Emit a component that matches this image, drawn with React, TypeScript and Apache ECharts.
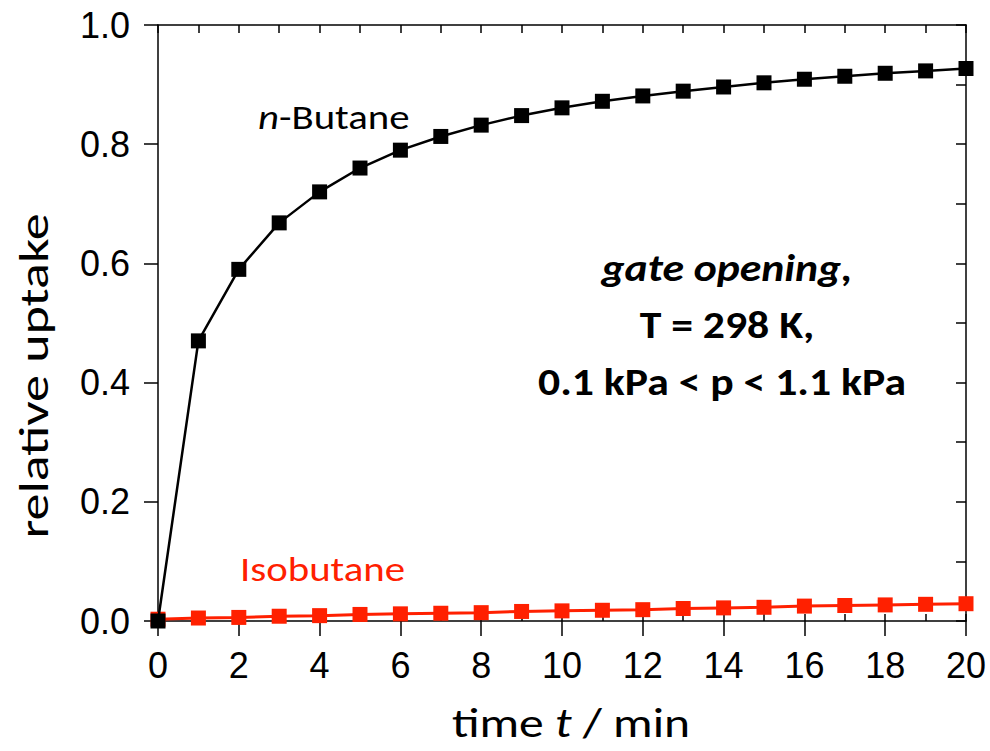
import React, { useEffect, useRef } from "react";
import * as echarts from "echarts";

const times = [0, 1, 2, 3, 4, 5, 6, 7, 8, 9, 10, 11, 12, 13, 14, 15, 16, 17, 18, 19, 20];
const nButane = [0.0, 0.47, 0.59, 0.668, 0.72, 0.76, 0.79, 0.813, 0.832, 0.848, 0.861, 0.872, 0.881, 0.889, 0.896, 0.903, 0.909, 0.914, 0.919, 0.923, 0.927];
const isobutane = [0.003, 0.005, 0.006, 0.008, 0.009, 0.011, 0.012, 0.013, 0.014, 0.016, 0.017, 0.018, 0.019, 0.021, 0.022, 0.023, 0.025, 0.026, 0.027, 0.028, 0.029];

const labelFont = "'Liberation Sans', Arial, sans-serif";
const textFont = "Carlito, Lato, 'Open Sans', sans-serif";

export default function App() {
  const ref = useRef<HTMLDivElement>(null);
  useEffect(() => {
    if (!ref.current) return;
    const chart = echarts.init(ref.current, null, { renderer: "svg" });
    const hidden = { show: false };
    chart.setOption({
      animation: false,
      backgroundColor: "#ffffff",
      grid: { left: 158, right: 24, top: 25, bottom: 130, containLabel: false },
      xAxis: [
        {
          type: "value", min: 0, max: 20, interval: 2, position: "bottom",
          axisLine: { show: true, onZero: false, lineStyle: { color: "#000", width: 1.5 } },
          axisTick: { show: true, inside: false, length: 15, lineStyle: { color: "#000", width: 1.5 } },
          axisLabel: { color: "#000", fontSize: 36, fontFamily: labelFont, margin: 26 },
          splitLine: hidden,
        },
        {
          type: "value", min: 0, max: 20, interval: 1, position: "bottom", gridIndex: 0,
          axisLine: hidden,
          axisTick: { show: true, inside: true, length: 7, lineStyle: { color: "#000", width: 1.5 } },
          axisLabel: hidden, splitLine: hidden,
        },
        {
          type: "value", min: 0, max: 20, interval: 1, position: "top",
          axisLine: { show: true, onZero: false, lineStyle: { color: "#000", width: 1.5 } },
          axisTick: { show: true, inside: true, length: 8, lineStyle: { color: "#000", width: 1.5 } },
          axisLabel: hidden, splitLine: hidden,
        },
      ],
      yAxis: [
        {
          type: "value", min: 0, max: 1, interval: 0.2, position: "left",
          axisLine: { show: true, onZero: false, lineStyle: { color: "#000", width: 1.5 } },
          axisTick: { show: true, inside: false, length: 14, lineStyle: { color: "#000", width: 1.5 } },
          axisLabel: { color: "#000", fontSize: 36, fontFamily: labelFont, margin: 28, formatter: (v: number) => v.toFixed(1) },
          splitLine: hidden,
        },
        {
          type: "value", min: 0, max: 1, interval: 0.1, position: "right",
          axisLine: { show: true, onZero: false, lineStyle: { color: "#000", width: 1.5 } },
          axisTick: { show: true, inside: true, length: 10, lineStyle: { color: "#000", width: 1.5 } },
          axisLabel: hidden, splitLine: hidden,
        },
      ],
      series: [
        {
          type: "line", name: "Isobutane", xAxisIndex: 0, yAxisIndex: 0,
          data: times.map((t, i) => [t, isobutane[i]]),
          symbol: "rect", symbolSize: 15,
          lineStyle: { color: "#ff2000", width: 3 },
          itemStyle: { color: "#ff2000" },
          clip: false, z: 3,
        },
        {
          type: "line", name: "n-Butane", xAxisIndex: 0, yAxisIndex: 0,
          data: times.map((t, i) => [t, nButane[i]]),
          symbol: "rect", symbolSize: 15,
          lineStyle: { color: "#000", width: 2.5 },
          itemStyle: { color: "#000" },
          clip: false, z: 4,
        },
      ],
      graphic: [
        {
          type: "text", x: 258, y: 117, scaleX: 1.2,
          style: {
            text: "{i|n}-Butane", fill: "#000", font: `34px ${textFont}`, verticalAlign: "middle",
            rich: { i: { fontStyle: "italic", fontSize: 34, fontFamily: textFont, fill: "#000" } },
          },
        },
        {
          type: "text", x: 240, y: 569, scaleX: 1.2,
          style: { text: "Isobutane", fill: "#ff2000", font: `34px ${textFont}`, verticalAlign: "middle" },
        },
        {
          type: "text", x: 727, y: 268, scaleX: 1.15,
          style: { text: "gate opening,", fill: "#000", font: `italic bold 38px ${textFont}`, align: "center", verticalAlign: "middle" },
        },
        {
          type: "text", x: 727, y: 325, scaleX: 1.15,
          style: { text: "T = 298 K,", fill: "#000", font: `bold 38px ${textFont}`, align: "center", verticalAlign: "middle" },
        },
        {
          type: "text", x: 722, y: 382, scaleX: 1.15,
          style: { text: "0.1 kPa < p < 1.1 kPa", fill: "#000", font: `bold 38px ${textFont}`, align: "center", verticalAlign: "middle" },
        },
        {
          type: "text", x: 571, y: 722, scaleX: 1.18,
          style: {
            text: "time {i|t} / min", fill: "#000", font: `42px ${textFont}`, align: "center", verticalAlign: "middle",
            rich: { i: { fontStyle: "italic", fontSize: 42, fontFamily: textFont, fill: "#000" } },
          },
        },
        {
          type: "text", x: 35, y: 376, rotation: Math.PI / 2, scaleX: 1.35,
          style: { text: "relative uptake", fill: "#000", font: `40px ${textFont}`, align: "center", verticalAlign: "middle" },
        },
      ],
    });
    return () => chart.dispose();
  }, []);
  return <div ref={ref} style={{ position: "absolute", left: 0, top: 0, width: 990, height: 751 }} />;
}
